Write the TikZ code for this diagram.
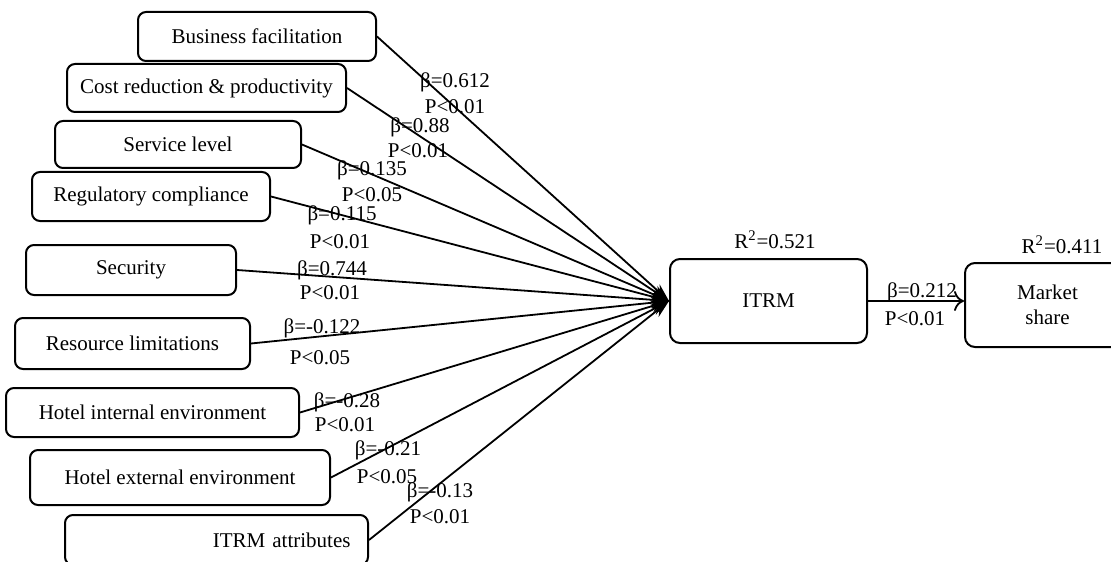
\documentclass[tikz,border=0pt]{standalone}
\usepackage{fontspec}
\setmainfont{Liberation Serif}
\usetikzlibrary{arrows.meta}
\begin{document}
\begin{tikzpicture}[x=0.5pt,y=-0.5pt,
  box/.style={draw, line width=1pt, rounded corners=4pt, inner sep=0pt, align=center,
    font=\fontsize{10.5}{12.5}\selectfont},
  lbl/.style={inner sep=0pt, font=\fontsize{10.5}{12.5}\selectfont},
  conn/.style={line width=0.9pt, -{Stealth[length=9pt,width=6pt]}},
  conn2/.style={line width=0.9pt, -{To[length=5pt,width=10pt,line width=0.9pt]}},
]
\path[use as bounding box, clip] (0,0) rectangle (1111,561);
\fill[white] (0,0) rectangle (1111,561);

% source boxes
\node[box, minimum width=119pt,   minimum height=24.5pt] (bf)  at (257,36.5)   {Business facilitation};
\node[box, minimum width=139.5pt, minimum height=24pt]   (crp) at (206.5,88)   {Cost reduction \& productivity};
\node[box, minimum width=123pt,   minimum height=23.5pt] (sl)  at (178,144.5)  {Service level};
\node[box, minimum width=119pt,   minimum height=24.5pt] (rc)  at (151,196.5)  {Regulatory compliance};
\node[box, minimum width=105pt,   minimum height=25pt]   (sec) at (131,270)    {Security};
\node[box, minimum width=117.5pt, minimum height=25.5pt] (rl)  at (132.5,343.5){Resource limitations};
\node[box, minimum width=146.5pt, minimum height=24.5pt] (hie) at (152.5,412.5){Hotel internal environment};
\node[box, minimum width=150pt,   minimum height=27.5pt] (hee) at (180,477.5)  {Hotel external environment};
\node[box, minimum width=151.5pt, minimum height=25pt, text width=134pt, align=right] (ia) at (216.5,540) {ITRM attributes};

% target boxes
\node[box, rounded corners=5pt, minimum width=98.5pt, minimum height=42pt] (itrm) at (768.5,301) {ITRM};
\node[box, rounded corners=5pt, minimum width=82.5pt, minimum height=42pt] (mkt)  at (1047.5,305) {Market\\share};

% connectors
\foreach \s in {bf,crp,sl,rc,sec,rl,hie,hee,ia}
  \draw[conn] (\s.east) -- (itrm.west);
\draw[conn2] (itrm.east) -- (itrm.east -| mkt.west);

% path labels
\node[lbl] (b1) at (455,82)  {β=0.612};  \node[lbl] (p1) at (455,107) {P<0.01};
\node[lbl] (b2) at (420,127) {β=0.88};   \node[lbl] (p2) at (418,151) {P<0.01};
\node[lbl] (b3) at (372,170) {β=0.135};  \node[lbl] (p3) at (372,195) {P<0.05};
\node[lbl] (b4) at (342,215) {β=0.115};  \node[lbl] (p4) at (340,242) {P<0.01};
\node[lbl] (b5) at (332,270) {β=0.744};  \node[lbl] (p5) at (330,293) {P<0.01};
\node[lbl] (b6) at (322,328) {β=-0.122}; \node[lbl] (p6) at (320,358) {P<0.05};
\node[lbl] (b7) at (347,402) {β=-0.28};  \node[lbl] (p7) at (345,425) {P<0.01};
\node[lbl] (b8) at (388,450) {β=-0.21};  \node[lbl] (p8) at (387,477) {P<0.05};
\node[lbl] (b9) at (440,492) {β=-0.13};  \node[lbl] (p9) at (440,517) {P<0.01};
\node[lbl] (b10) at (922,292) {β=0.212}; \node[lbl] (p10) at (915,319) {P<0.01};

% R-squared labels
\node[lbl] (r1) at (775,240)  {R\textsuperscript{2}=0.521};
\node[lbl] (r2) at (1062,245) {R\textsuperscript{2}=0.411};
\end{tikzpicture}
\end{document}
